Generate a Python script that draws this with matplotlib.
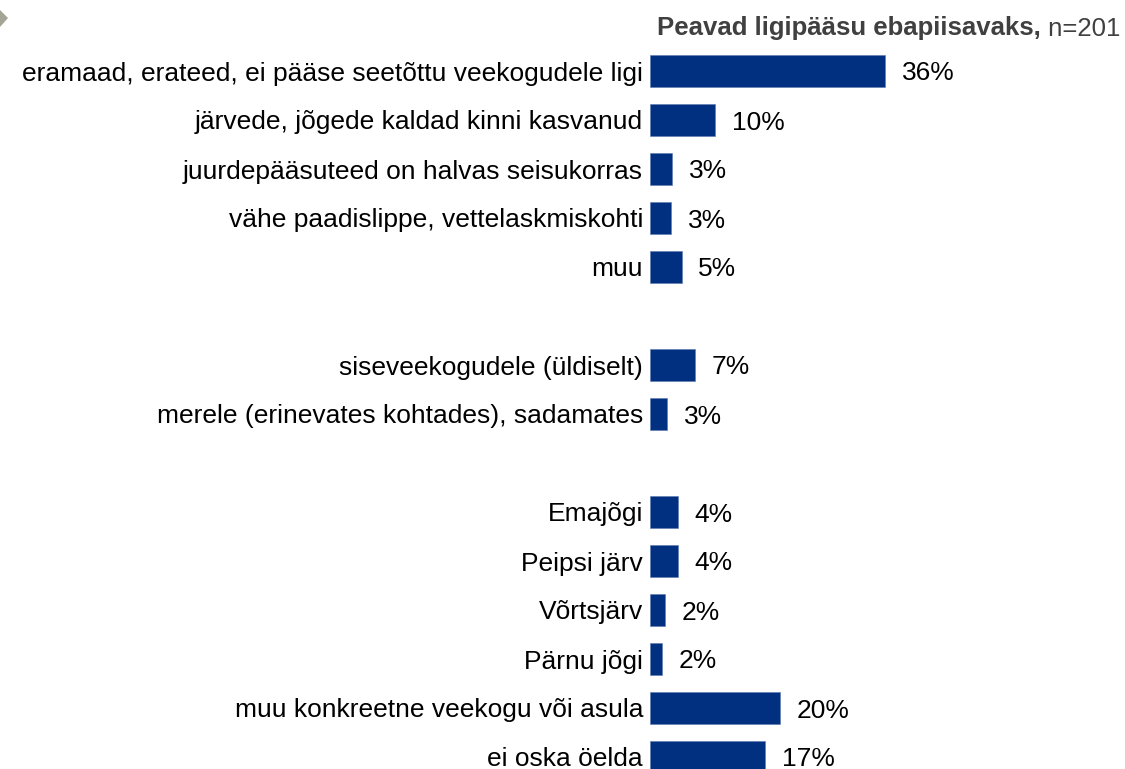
"""Peavad ligipääsu ebapiisavaks - horisontaalne tulpdiagramm"""
import matplotlib
matplotlib.use('Agg')
import matplotlib.pyplot as plt
from matplotlib.patches import Polygon

plt.rcParams['font.family'] = ['Liberation Sans', 'DejaVu Sans']

# andmed
categories = [
    'eramaad, erateed, ei pääse seetõttu veekogudele ligi',
    'järvede, jõgede kaldad kinni kasvanud',
    'juurdepääsuteed on halvas seisukorras',
    'vähe paadislippe, vettelaskmiskohti',
    'muu',
    'siseveekogudele (üldiselt)',
    'merele (erinevates kohtades), sadamates',
    'Emajõgi',
    'Peipsi järv',
    'Võrtsjärv',
    'Pärnu jõgi',
    'muu konkreetne veekogu või asula',
    'ei oska öelda',
]
# tulpade pikkused (ümardamata) ja sildid
values = [35.6, 9.85, 3.4, 3.2, 4.8, 6.8, 2.6, 4.2, 4.2, 2.3, 1.8, 19.7, 17.4]
labels = ['36%', '10%', '3%', '3%', '5%', '7%', '3%', '4%', '4%', '2%', '2%', '20%', '17%']
slots = [0, 1, 2, 3, 4, 6, 7, 9, 10, 11, 12, 13, 14]
title_bold = 'Peavad ligipääsu ebapiisavaks,'
title_norm = ' n=201'

W, H = 1125, 769
fig = plt.figure(figsize=(W / 100, H / 100), dpi=100)
ax = fig.add_axes([650 / W, 0, 468.6 / W, 1])
ax.barh(slots, values, height=0.67, color='#00307F', edgecolor='#5a78b0', linewidth=0.4)
ax.set_xlim(0, 71)
ax.set_ylim((H - 71) / 49, -71 / 49)
ax.axis('off')

for s, cat, v, lab in zip(slots, categories, values, labels):
    ax.annotate(cat, (0, s), xytext=(-5, 0), textcoords='offset points',
                ha='right', va='center_baseline', fontsize=19, color='black')
    ax.annotate(lab, (v, s), xytext=(12, 0), textcoords='offset points',
                ha='left', va='center_baseline', fontsize=19, color='black')

# pealkiri: paks osa + tavaline osa
t2 = fig.text(1120 / W, 1 - 26 / H, title_norm, ha='right', va='center_baseline',
              fontsize=18.5, color='#404040')
r = fig.canvas.get_renderer()
bb = t2.get_window_extent(renderer=r)
fig.text(bb.x0 / W, 1 - 26 / H, title_bold, ha='right', va='center_baseline',
         fontsize=18.5, color='#404040', fontweight='bold')

# hall nool vasakus ülanurgas
fig.patches.append(Polygon([(0, 1 - 10 / H), (8 / W, 1 - 18 / H), (0, 1 - 27 / H)],
                           closed=True, transform=fig.transFigure,
                           facecolor='#A5A595', edgecolor='none'))

fig.savefig('out.png', dpi=100)
